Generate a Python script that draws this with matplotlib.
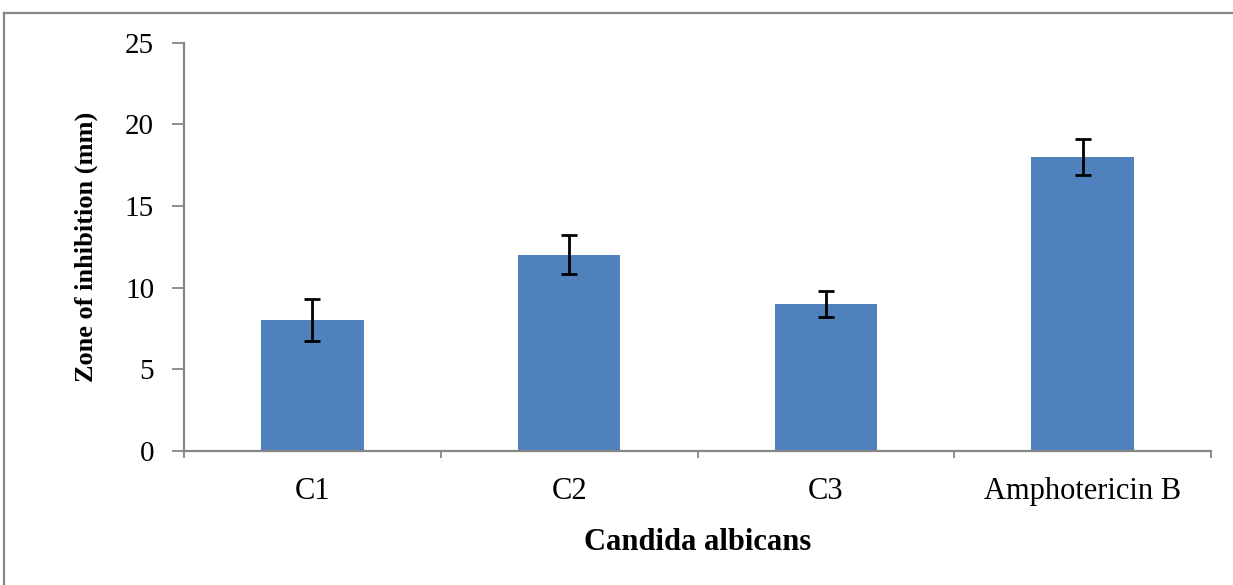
import matplotlib
matplotlib.use("Agg")
import matplotlib.pyplot as plt
from matplotlib.lines import Line2D
from matplotlib.ticker import FixedLocator

categories = ["C1", "C2", "C3", "Amphotericin B"]
values = [8, 12, 9, 18]
errors = [1.3, 1.2, 0.8, 1.1]
yticks = [0, 5, 10, 15, 20, 25]

plt.rcParams['font.family'] = ['Liberation Serif', 'DejaVu Serif']

fig = plt.figure(figsize=(12.33, 5.85), dpi=100)
ax = fig.add_axes([184/1233, 1-450.7/585, (1211-184)/1233, (450.7-42.7)/585])

x = list(range(len(categories)))
ax.bar(x, values, width=0.4, color='#4F81BD', zorder=2)
ax.errorbar(x, values, yerr=errors, fmt='none', ecolor='black',
            elinewidth=2.0, capsize=6, capthick=2.0, zorder=3)

ax.set_xlim(-0.5, 3.5)
ax.set_ylim(0, 25)
ax.set_yticks(yticks)
ax.set_yticklabels([str(t) for t in yticks], fontsize=21)
ax.set_xticks(x)
ax.set_xticklabels(categories, fontsize=22)
ax.xaxis.set_minor_locator(FixedLocator([-0.5, 0.5, 1.5, 2.5, 3.5]))

spine_col = '#868686'
for s in ['top', 'right']:
    ax.spines[s].set_visible(False)
for s in ['left', 'bottom']:
    ax.spines[s].set_color(spine_col)
    ax.spines[s].set_linewidth(1.6)

ax.tick_params(axis='y', direction='out', length=8.5, width=1.3, color=spine_col, pad=13)
ax.tick_params(axis='x', which='major', length=0, pad=19)
ax.tick_params(axis='x', which='minor', direction='out', length=5, width=1.3, color=spine_col)

ax.set_xlabel('Candida albicans', fontsize=22, fontweight='bold', labelpad=16)
ax.set_ylabel('Zone of inhibition (mm)', fontsize=19, fontweight='bold', labelpad=19)

# outer frame (top and left edges visible)
fig.add_artist(Line2D([4/1233, 1.0], [1-13/585, 1-13/585], transform=fig.transFigure,
                      color=spine_col, linewidth=1.6))
fig.add_artist(Line2D([4/1233, 4/1233], [0.0, 1-13/585], transform=fig.transFigure,
                      color=spine_col, linewidth=1.6))

fig.savefig('out.png', dpi=100)
